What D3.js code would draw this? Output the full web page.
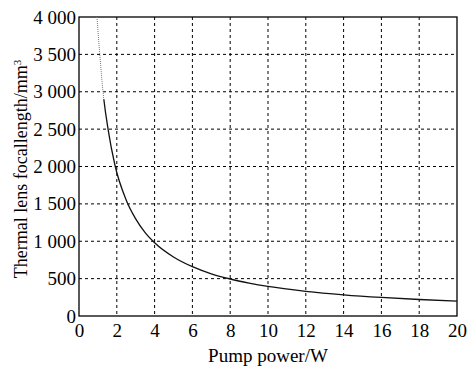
<!DOCTYPE html>
<html lang="en">
<head>
<meta charset="UTF-8">
<title>Thermal lens focal length</title>
<style>
  body { margin: 0; background: #fff; }
  svg { display: block; }
  .tick text { font-family: "Liberation Serif", serif; font-size: 19px; fill: #000; }
  .grid line { stroke: #000; stroke-width: 1; stroke-dasharray: 3,3; }
  .label { font-family: "Liberation Serif", serif; font-size: 19px; fill: #000; }
</style>
</head>
<body>
<svg width="468" height="369"></svg>
<script src="https://d3js.org/d3.v7.min.js"></script>
<script>
// values
var power = [0.95, 1.1, 1.27, 1.55, 1.9, 2.5, 3, 3.5, 4, 5, 6, 7, 8, 9, 10, 12, 14, 16, 18, 20];
var focal = [4000, 3500, 3000, 2480, 2020, 1550, 1300, 1115, 980, 790, 660, 565, 495, 440, 395, 330, 283, 248, 221, 200];
var xTicks = [0, 2, 4, 6, 8, 10, 12, 14, 16, 18, 20];
var yTicks = [0, 500, 1000, 1500, 2000, 2500, 3000, 3500, 4000];
var yTickLabels = ["0", "500", "1 000", "1 500", "2 000", "2 500", "3 000", "3 500", "4 000"];
var fadeAbove = 2900; // the curve is faint and dotted above this value

var svg = d3.select("svg"),
    margin = {top: 17, right: 11, bottom: 53, left: 79},
    width = 468 - margin.left - margin.right,
    height = 369 - margin.top - margin.bottom;

var x = d3.scaleLinear().domain([0, 20]).range([0, width]),
    y = d3.scaleLinear().domain([0, 4000]).range([height, 0]);

var defs = svg.append("defs");
defs.append("clipPath").attr("id", "clipTop").append("rect")
  .attr("x", 0).attr("y", 0).attr("width", width).attr("height", y(fadeAbove));
defs.append("clipPath").attr("id", "clipBottom").append("rect")
  .attr("x", 0).attr("y", y(fadeAbove)).attr("width", width).attr("height", height - y(fadeAbove) + 2);

var g = svg.append("g").attr("transform", "translate(" + margin.left + "," + margin.top + ")");

// dashed grid
var grid = g.append("g").attr("class", "grid");
grid.selectAll("line.vx").data(xTicks.slice(1, -1)).enter().append("line")
    .attr("x1", d => x(d)).attr("x2", d => x(d))
    .attr("y1", 0).attr("y2", height);
grid.selectAll("line.hy").data(yTicks.slice(1, -1)).enter().append("line")
    .attr("x1", 0).attr("x2", width)
    .attr("y1", d => y(d)).attr("y2", d => y(d));

// axes
var xAxis = d3.axisBottom(x).tickValues(xTicks).tickSize(0).tickPadding(8);
var yAxis = d3.axisLeft(y).tickValues(yTicks).tickSize(0).tickPadding(3)
  .tickFormat((d, i) => yTickLabels[i]);

g.append("g").attr("transform", "translate(0," + height + ")").call(xAxis)
  .select(".domain").remove();
g.append("g").call(yAxis).select(".domain").remove();

// frame
g.append("rect").attr("width", width).attr("height", height)
  .attr("fill", "none").attr("stroke", "#000").attr("stroke-width", 1.3);

// curve
var line = d3.line().x((d, i) => x(power[i])).y(d => y(d)).curve(d3.curveMonotoneX);
g.append("path").datum(focal)
  .attr("clip-path", "url(#clipTop)")
  .attr("fill", "none").attr("stroke", "#777").attr("stroke-width", 1)
  .attr("stroke-dasharray", "1,1")
  .attr("d", line);
g.append("path").datum(focal)
  .attr("clip-path", "url(#clipBottom)")
  .attr("fill", "none").attr("stroke", "#111").attr("stroke-width", 1.3)
  .attr("d", line);

// labels
svg.append("text").attr("class", "label")
  .attr("x", margin.left + width / 2).attr("y", 362)
  .attr("text-anchor", "middle").text("Pump power/W");

var yl = svg.append("text").attr("class", "label")
  .style("font-size", "18px")
  .attr("transform", "translate(27,169) rotate(-90)")
  .attr("text-anchor", "middle");
yl.append("tspan").text("Thermal lens focallength/mm");
yl.append("tspan").attr("baseline-shift", "super").attr("font-size", "11px").text("3");
</script>
</body>
</html>
